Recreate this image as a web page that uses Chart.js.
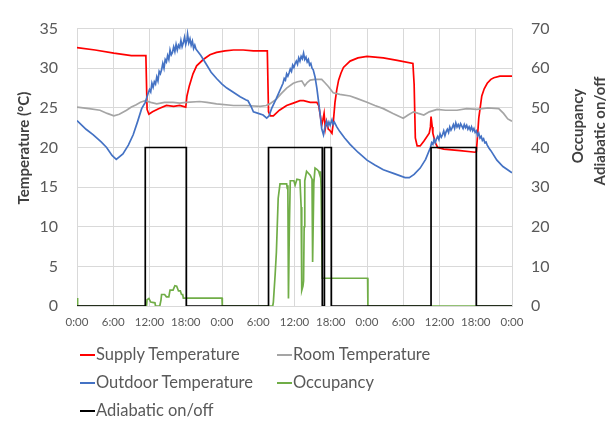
<!DOCTYPE html>
<html>
<head>
<meta charset="utf-8">
<script src="https://cdn.jsdelivr.net/npm/chart.js@4"></script>
<style>
  body { margin: 0; background: #fff; }
  #wrap { position: relative; width: 613px; height: 423px; }
  #legend { position: absolute; left: 0; top: 0; width: 613px; height: 423px; pointer-events: none;
            font-family: Lato, sans-serif; font-size: 16.5px; color: #595959; }
  .item { position: absolute; white-space: nowrap; line-height: 20px; }
  .item i { display: inline-block; width: 15px; height: 2px; vertical-align: middle; margin-right: 1px; position: relative; top: -1px; }
</style>
</head>
<body>
<div id="wrap">
  <canvas id="chart" width="613" height="423"></canvas>
  <div id="legend"></div>
</div>
<script>
// x values are hours from the start of the 3-day log
const timeLabels = ['0:00','6:00','12:00','18:00','0:00','6:00','12:00','18:00','0:00','6:00','12:00','18:00','0:00'];

// [hour, °C]
const supplyTemp = [
  [0,32.6],[3,32.3],[6.1,31.9],[9,31.6],[11.4,31.6],[11.6,24.8],[11.9,24.2],[12.5,24.5],[13.5,24.9],
  [14.8,25.3],[16,25.2],[17,25.3],[18.0,25.1],[18.2,26.5],[18.6,27.8],[19.2,29.3],[19.8,30.3],[20.9,31.1],
  [22,31.7],[23.1,32.0],[24.5,32.2],[25.9,32.3],[27.5,32.3],[29.2,32.2],[31.5,32.2],[31.7,24.5],[32.0,24.0],
  [32.5,24.0],[33.5,24.7],[34.7,25.3],[35.8,25.6],[36.9,25.9],[37.5,25.9],[38.6,25.7],[39.7,25.7],[40.0,25.3],
  [40.3,23.9],[40.5,22.8],[40.7,23.5],[40.9,24.3],[41.1,22.4],[41.3,23.3],[41.6,22.3],[41.8,22.2],[42.2,21.8],
  [42.4,23.0],[42.7,25.7],[43.0,27.3],[43.3,28.5],[43.7,29.4],[44.1,30.1],[45.2,30.9],[46.5,31.3],[48,31.5],
  [50.7,31.3],[53,31.0],[55.6,30.6],[55.8,28.0],[56.0,21.2],[56.3,20.2],[56.8,20.2],[57.4,20.8],[58.3,21.8],
  [58.5,22.6],[58.6,23.9],[58.8,22.6],[58.9,21.8],[59.3,20.6],[59.7,20.0],[60.7,19.8],[63.4,19.6],[65.9,19.4],
  [66.1,19.5],[66.3,21.5],[66.5,23.7],[67.0,26.5],[67.4,27.4],[67.9,28.1],[68.5,28.6],[69,28.8],[70,29.0],[72,29.0]
];

const roomTemp = [
  [0,25.1],[2,24.9],[3.8,24.7],[5,24.3],[6.1,24.0],[7,24.2],[8.2,24.7],[9,25.1],[9.8,25.4],[10.5,25.7],
  [11.3,25.9],[12.2,25.7],[13.2,25.5],[14.5,25.7],[15.9,25.7],[17,25.6],[18.1,25.7],[20.3,25.8],[21.5,25.7],
  [23.1,25.5],[25.9,25.3],[28,25.3],[30.3,25.2],[31.3,25.3],[31.9,25.5],[33,26.1],[33.8,26.8],[34.7,27.5],
  [35.8,28.1],[36.5,28.3],[37.2,28.4],[37.7,27.8],[38.1,28.2],[38.6,28.5],[39.4,28.6],[40.5,28.6],[41.0,28.2],
  [41.6,27.7],[42.4,26.9],[43.5,26.7],[45.2,26.5],[46.3,26.2],[48,25.7],[49.3,25.3],[50.7,24.9],[52.3,24.3],
  [54,23.7],[54.8,24.1],[55.7,24.5],[56.5,24.3],[57.4,24.1],[58.3,24.5],[59.6,24.8],[61,24.7],[62.9,24.7],
  [64.5,24.9],[66.2,24.8],[68,25.0],[69.8,24.9],[70.6,24.3],[71.3,23.6],[72,23.3]
];

// outdoor sensor jitters in full sun, so the daytime stretches are sampled densely
const outdoorTemp = [
  [0,23.4],[1.5,22.3],[2.7,21.6],[4,20.7],[4.9,20.0],[5.8,19.0],[6.5,18.5],[7.6,19.2],[8.5,20.3],[9.3,21.6],
  [10,23.2],[10.7,24.9],[11.3,25.7],[11.8,26.9],[12.0,27.3],[12.2,27.0],[12.4,28.1],[12.6,27.6],[12.8,28.3],
  [13.0,28.0],[13.2,28.9],[13.4,28.4],[13.6,29.6],[13.8,29.3],[14.0,29.8],[14.2,30.6],[14.4,30.0],[14.6,31.1],
  [14.8,30.8],[15.0,31.6],[15.2,31.1],[15.4,32.3],[15.6,31.7],[15.8,32.0],[16.0,32.7],[16.2,32.1],[16.4,33.0],
  [16.6,32.3],[16.8,32.9],[17.0,32.6],[17.2,33.5],[17.4,32.7],[17.6,33.2],[17.8,33.9],[18.0,33.0],[18.2,33.6],
  [18.3,34.3],[18.5,33.2],[18.7,33.7],[18.9,32.9],[19.1,33.4],[19.3,32.5],[19.5,32.9],[19.7,32.4],[19.9,32.2],
  [20.5,31.6],[21.4,30.5],[22.2,29.5],[23.1,28.7],[24.0,28.0],[24.8,27.5],[26.0,26.9],[27.0,26.4],[28.0,26.0],
  [28.3,25.9],[28.8,25.2],[29.2,24.5],[30.0,24.3],[30.8,24.1],[31.4,23.7],[31.8,24.0],[32.2,24.9],[33.0,26.2],
  [34.1,28.1],[34.3,28.7],[34.5,28.5],[34.7,29.3],[34.9,29.0],[35.1,29.4],[35.3,29.9],[35.5,29.6],[35.7,30.4],
  [35.9,30.1],[36.1,30.6],[36.3,30.9],[36.5,30.5],[36.7,31.3],[36.9,30.9],[37.1,31.5],[37.3,31.2],[37.5,31.9],
  [37.7,31.1],[37.9,31.4],[38.1,30.8],[38.3,31.1],[38.5,30.4],[38.7,30.6],[38.9,30.0],[39.1,29.8],[39.4,28.9],
  [39.7,27.5],[40.0,25.7],[40.3,23.8],[40.5,22.4],[40.8,21.6],[41.0,22.4],[41.3,23.3],[41.5,22.7],[41.7,23.2],
  [41.9,22.8],[42.2,23.5],[42.4,22.9],[42.6,23.2],[43.0,22.6],[43.5,22.0],[44.3,21.2],[45.2,20.4],[46.5,19.4],
  [48,18.4],[49.3,17.8],[50.7,17.2],[52.5,16.7],[54.3,16.2],[55.0,16.2],[55.8,16.6],[56.8,17.4],[57.7,18.5],
  [58.5,20.0],[58.7,20.6],[58.9,20.4],[59.1,21.0],[59.3,20.6],[59.5,21.1],[59.7,21.4],[59.9,21.0],[60.1,21.7],
  [60.3,21.3],[60.5,21.6],[60.7,22.1],[60.9,21.5],[61.1,22.0],[61.3,22.3],[61.5,21.9],[61.7,22.6],[61.9,22.2],
  [62.1,22.5],[62.3,22.9],[62.5,22.4],[62.7,23.1],[62.9,22.6],[63.1,22.9],[63.3,22.5],[63.5,23.0],[63.7,22.7],
  [63.9,22.4],[64.1,22.9],[64.3,22.5],[64.5,22.8],[64.7,22.3],[64.9,22.6],[65.1,22.2],[65.3,22.6],[65.5,22.1],
  [65.7,22.4],[65.9,21.9],[66.1,22.1],[66.3,21.5],[66.5,21.8],[66.7,21.2],[66.9,21.4],[67.1,20.9],[67.3,21.1],
  [67.5,20.6],[67.7,20.7],[67.9,20.3],[68.2,19.9],[68.5,19.6],[69.5,18.4],[70.5,17.6],[72,16.8]
];

// [hour, persons] on the right axis
const occupancy = [
  [0,2.0],[0.1,0],[11.5,0],[11.6,1.6],[11.9,1.9],[12.2,1.0],[12.9,0.8],[13.0,0],[13.7,0],[13.9,1.5],[14.0,2.9],
  [14.5,2.9],[14.8,2.3],[15.2,2.3],[15.4,4.0],[15.9,4.0],[16.2,5.1],[16.5,5.0],[16.8,3.8],[17.1,3.8],[17.3,2.9],
  [17.5,2.9],[17.6,2.0],[24.0,2.0],[24.05,0],[32.4,0],[32.5,1],[32.8,8],[33.0,13.5],[33.3,27.2],[33.6,30.8],
  [34.7,30.8],[34.8,29.7],[34.9,30.5],[35.0,1.9],[35.15,20],[35.3,31.6],[35.9,31.6],[36.1,30.5],[36.4,32],
  [36.9,31.8],[37.1,25],[37.2,3.9],[37.4,5],[37.5,6.3],[37.6,20],[37.7,31.6],[38.0,34.0],[38.3,33.5],[38.6,33],
  [38.9,32],[39.0,11.1],[39.2,31],[39.4,34.8],[39.7,34.5],[40.0,34],[40.2,33],[40.3,34],[40.4,30],[40.6,7.0],
  [48.1,7.0],[48.15,0],[72,0]
];

// 40 = on, 0 = off
const adiabatic = [
  [0,0],[11.3,0],[11.3,40],[18.1,40],[18.1,0],[31.7,0],[31.7,40],[40.6,40],[40.6,0],[40.95,0],[40.95,40],
  [42.1,40],[42.1,0],[58.6,0],[58.6,40],[66.1,40],[66.1,0],[72,0]
];

const series = [
  { label: 'Supply Temperature', data: supplyTemp, color: '#FF0000', axis: 'y', order: 5 },
  { label: 'Room Temperature', data: roomTemp, color: '#A5A5A5', axis: 'y', order: 4 },
  { label: 'Outdoor Temperature', data: outdoorTemp, color: '#4472C4', axis: 'y', order: 3 },
  { label: 'Occupancy', data: occupancy, color: '#70AD47', axis: 'y2', order: 2 },
  { label: 'Adiabatic on/off', data: adiabatic, color: '#000000', axis: 'y2', order: 1 }
];

const GREY = '#595959';
const GRID = '#D9D9D9';
const FONT = 'Lato, sans-serif';

// axis titles are drawn by hand so both read bottom-to-top
const axisTitles = {
  id: 'axisTitles',
  afterDraw(chart) {
    const ctx = chart.ctx;
    ctx.save();
    ctx.fillStyle = '#404040';
    ctx.font = 'bold 15px ' + FONT;
    ctx.textAlign = 'center';
    ctx.textBaseline = 'middle';
    const lines = [[24, 148, 'Temperature (°C)'], [578, 126, 'Occupancy'], [600, 131, 'Adiabatic on/off']];
    lines.forEach(([x, y, t]) => {
      ctx.save();
      ctx.translate(x, y);
      ctx.rotate(-Math.PI / 2);
      ctx.fillText(t, 0, 0);
      ctx.restore();
    });
    ctx.restore();
  }
};

new Chart(document.getElementById('chart'), {
  type: 'line',
  data: {
    datasets: series.map(s => ({
      label: s.label,
      data: s.data.map(([x, y]) => ({ x, y })),
      borderColor: s.color,
      backgroundColor: s.color,
      borderWidth: 1.7,
      pointRadius: 0,
      tension: 0,
      yAxisID: s.axis,
      order: s.order
    }))
  },
  options: {
    responsive: false,
    animation: false,
    layout: { padding: { top: 16, left: 0, right: 0, bottom: 0 } },
    plugins: { legend: { display: false }, tooltip: { enabled: false } },
    scales: {
      x: {
        type: 'linear', min: 0, max: 72,
        afterFit: s => { s.height = 117; },
        afterBuildTicks: s => { s.ticks = timeLabels.map((_, i) => ({ value: i * 6 })); },
        ticks: { callback: (v, i) => timeLabels[i], color: GREY, font: { family: FONT, size: 11.5 }, padding: 9, maxRotation: 0, autoSkip: false },
        grid: { color: GRID, drawTicks: false },
        border: { color: GRID }
      },
      y: {
        position: 'left', min: 0, max: 35,
        afterFit: s => { s.width = 77; },
        ticks: { stepSize: 5, color: GREY, font: { family: FONT, size: 16 }, padding: 19 },
        grid: { color: GRID, drawTicks: false },
        border: { display: false }
      },
      y2: {
        position: 'right', min: 0, max: 70,
        afterFit: s => { s.width = 101; },
        ticks: { stepSize: 10, color: GREY, font: { family: FONT, size: 16 }, padding: 19 },
        grid: { display: false, drawTicks: false },
        border: { display: false }
      }
    }
  },
  plugins: [axisTitles]
});

// legend in two columns under the plot
const legendPos = [[80, 354], [277, 354], [80, 382], [277, 382], [80, 410]];
const legend = document.getElementById('legend');
series.forEach((s, i) => {
  const el = document.createElement('div');
  el.className = 'item';
  el.style.left = legendPos[i][0] + 'px';
  el.style.top = (legendPos[i][1] - 10) + 'px';
  el.innerHTML = '<i style="background:' + s.color + '"></i>' + s.label;
  legend.appendChild(el);
});
</script>
</body>
</html>
